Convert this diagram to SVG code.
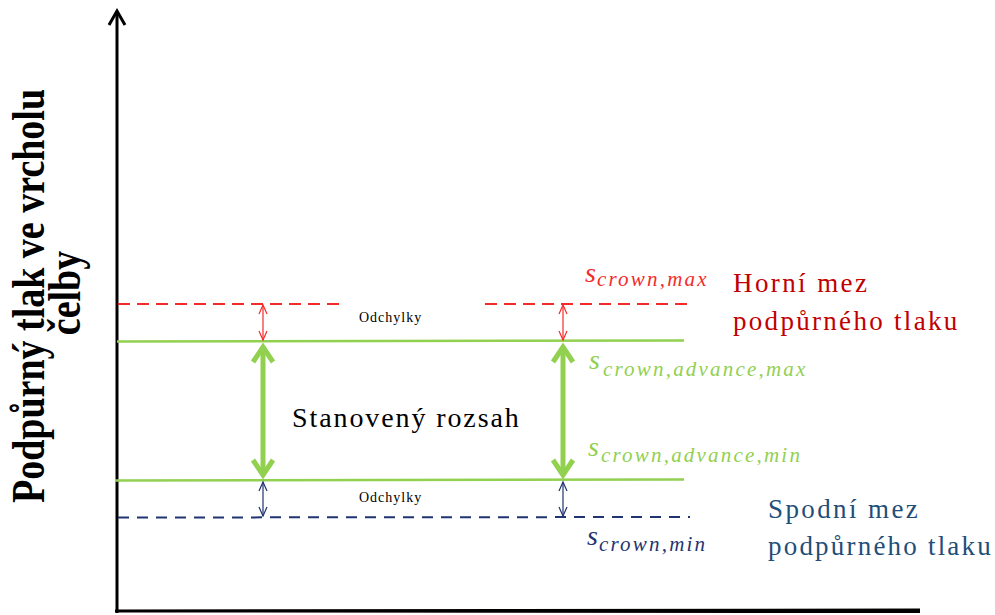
<svg xmlns="http://www.w3.org/2000/svg" width="995" height="615" viewBox="0 0 995 615">
<style>
.axis{stroke:#000;stroke-width:3;fill:none}
.red{stroke:#f42b2b;stroke-width:2;stroke-dasharray:12 7;fill:none}
.blue{stroke:#1f3470;stroke-width:2;stroke-dasharray:11 8;fill:none}
.green{stroke:#92d050;stroke-width:2.5;fill:none}
.ga{stroke:#92d050;stroke-width:5;fill:none;stroke-linejoin:miter;stroke-linecap:butt}
.ra{stroke:#f42b2b;stroke-width:1.2;fill:none}
.ba{stroke:#1f3470;stroke-width:1.2;fill:none}
.tnr{font-family:"Liberation Serif","Times New Roman",serif}
.math{font-family:"Liberation Serif","Times New Roman",serif;font-style:italic}
.sub{font-size:21px;letter-spacing:2.2px}
.s{font-size:28px}
</style>
<rect width="995" height="615" fill="#fff"/>
<g id="axes">
<line class="axis" x1="117" y1="11" x2="117" y2="613"/>
<polyline class="axis" points="109,25 117,11 125,25"/>
<polygon points="115,609.5 920,608.5 920,613 115,612.5" fill="#000"/>
</g>
<g id="y-label" class="tnr" font-weight="bold" font-size="38" fill="#000">
<text transform="translate(44,296) scale(1.22,1) rotate(-90)" text-anchor="middle">Podpůrný tlak ve vrcholu</text>
<text transform="translate(80,293) scale(1.22,1) rotate(-90)" text-anchor="middle">čelby</text>
</g>
<g id="connectors">
<line class="red" x1="118" y1="304" x2="345" y2="304"/>
<line class="red" x1="485" y1="304" x2="690" y2="304"/>
<line class="green" x1="117" y1="341.5" x2="684" y2="340.5"/>
<line class="green" x1="115" y1="480.5" x2="684" y2="479.5"/>
<line class="blue" x1="118" y1="517.5" x2="690" y2="517"/>
<g id="arrows-left">
<line class="ra" x1="263" y1="305" x2="263" y2="340"/>
<polyline class="ra" points="259,314 263,305 267,314"/>
<polyline class="ra" points="259,331 263,340 267,331"/>
<line class="ga" x1="263" y1="348" x2="263" y2="473"/>
<polyline class="ga" points="253,362 263,347 273,362"/>
<polyline class="ga" points="253,460 263,475 273,460"/>
<line class="ba" x1="263" y1="482" x2="263" y2="516"/>
<polyline class="ba" points="259,491 263,482 267,491"/>
<polyline class="ba" points="259,507 263,516 267,507"/>
</g>
<g id="arrows-right">
<line class="ra" x1="563" y1="305" x2="563" y2="340"/>
<polyline class="ra" points="559,314 563,305 567,314"/>
<polyline class="ra" points="559,331 563,340 567,331"/>
<line class="ga" x1="563" y1="348" x2="563" y2="473"/>
<polyline class="ga" points="553,362 563,347 573,362"/>
<polyline class="ga" points="553,460 563,475 573,460"/>
<line class="ba" x1="563" y1="482" x2="563" y2="516"/>
<polyline class="ba" points="559,491 563,482 567,491"/>
<polyline class="ba" points="559,507 563,516 567,507"/>
</g>
</g>
<g id="odchylky-top" class="tnr"><text x="359" y="322" font-size="14" letter-spacing="1">Odchylky</text></g>
<g id="odchylky-bottom" class="tnr"><text x="359" y="502" font-size="14" letter-spacing="1">Odchylky</text></g>
<g id="range-label" class="tnr"><text x="292" y="427" font-size="28" letter-spacing="1.9">Stanovený rozsah</text></g>
<g id="s-crown-max" class="math" fill="#f42b2b">
<text class="s" x="585" y="282">s</text>
<text class="sub" x="597" y="286" letter-spacing="2.3">crown,max</text>
</g>
<g id="s-adv-max" class="math" fill="#92d050">
<text class="s" x="589" y="369">s</text>
<text class="sub" x="603" y="376" letter-spacing="2">crown,advance,max</text>
</g>
<g id="s-adv-min" class="math" fill="#92d050">
<text class="s" x="588" y="456">s</text>
<text class="sub" x="601" y="462" letter-spacing="1.95">crown,advance,min</text>
</g>
<g id="s-crown-min" class="math" fill="#1f3470">
<text class="s" x="587" y="545">s</text>
<text class="sub" x="599" y="551" letter-spacing="2.4">crown,min</text>
</g>
<g id="upper-limit" class="tnr" fill="#c00000" font-size="27">
<text x="733" y="292" letter-spacing="2.4">Horní mez</text>
<text x="733" y="330" letter-spacing="2.3">podpůrného tlaku</text>
</g>
<g id="lower-limit" class="tnr" fill="#1f4e79" font-size="27">
<text x="768" y="518" letter-spacing="2.4">Spodní mez</text>
<text x="768" y="555" letter-spacing="2.2">podpůrného tlaku</text>
</g>
</svg>
